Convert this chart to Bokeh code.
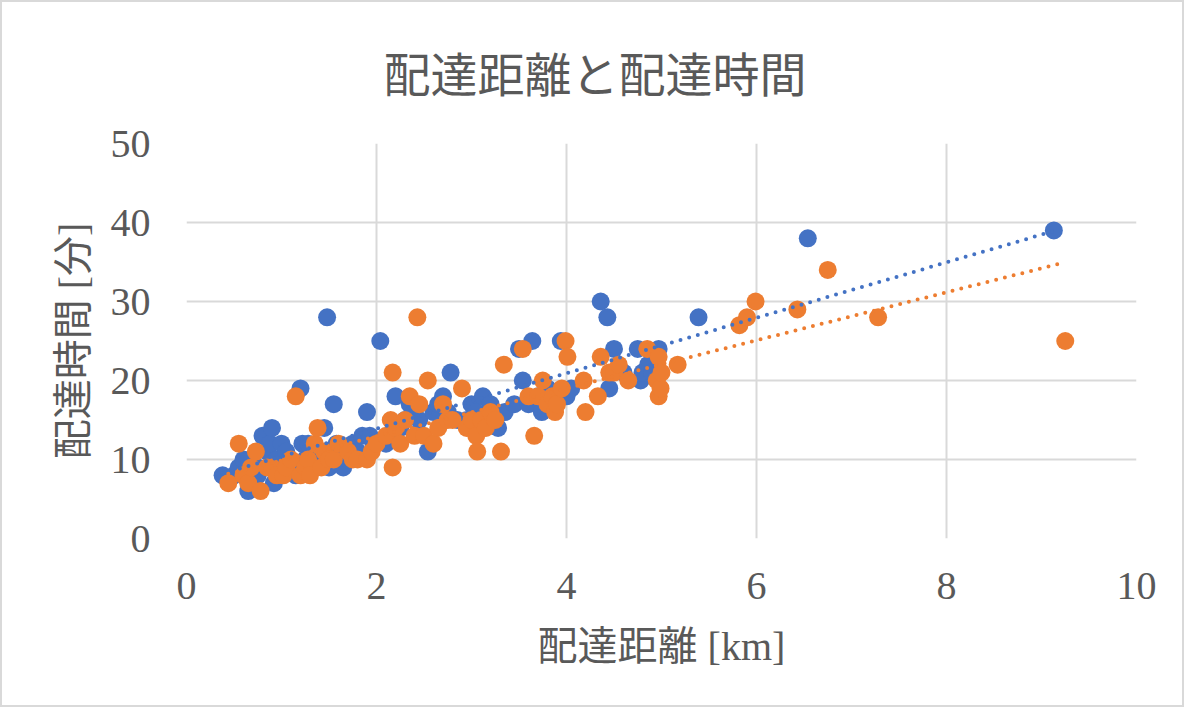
import numpy as np
from bokeh.plotting import figure
from bokeh.models import FixedTicker, Range1d
from bokeh.embed import file_html
from bokeh.resources import INLINE

# ---- data ----
title_text = "配達距離と配達時間"
x_label = "配達距離 [km]"
y_label = "配達時間 [分]"
x_ticks = [0, 2, 4, 6, 8, 10]
y_ticks = [0, 10, 20, 30, 40, 50]

blue_x = [0.38, 0.5, 0.55, 0.6, 0.65, 0.7, 0.75, 0.75, 0.8, 0.85, 0.88, 0.9, 0.92, 0.95, 1.0,
          1.05, 1.08, 1.1, 1.15, 1.18, 1.2, 1.22, 1.25, 1.28, 1.3, 1.35, 1.38, 1.4, 1.45, 1.48,
          1.5, 1.55, 1.58, 1.6, 1.65, 1.68, 1.7, 1.75, 1.8, 1.85, 1.9, 1.93, 1.97, 2.04, 2.1,
          2.15, 2.2, 2.25, 2.3, 2.35, 2.4, 2.45, 2.54, 2.6, 2.65, 2.7, 2.75, 2.78, 2.85, 2.95,
          3.0, 3.05, 3.12, 3.15, 3.2, 3.28, 3.35, 3.45, 3.5, 3.54, 3.6, 3.64, 3.7, 3.74, 3.8,
          3.85, 3.9, 3.94, 4.0, 4.05, 4.36, 4.43, 4.45, 4.5, 4.6, 4.75, 4.78, 4.8, 4.86, 4.9,
          4.97, 5.39, 6.54, 9.13]
blue_y = [8, 8, 9, 10, 6, 7, 9, 8, 13, 11, 12, 14, 7, 10, 12,
          11, 10, 9, 8, 9, 19, 12, 10, 12, 11, 9, 11, 10, 14, 28,
          9, 17, 12, 11, 9, 11, 10, 12, 11, 13, 16, 13, 12, 25, 12,
          13, 18, 14, 15, 17, 16, 15, 11, 16, 17, 18, 16, 21, 15, 15,
          17, 16, 18, 15, 17, 14, 16, 17, 24, 20, 17, 25, 18, 16, 19,
          17, 18, 25, 18, 19, 30, 28, 19, 24, 21, 24, 20, 21, 22, 21,
          24, 28, 38, 39]

orange_x = [0.44, 0.55, 0.6, 0.65, 0.68, 0.73, 0.78, 0.85, 0.9, 0.95, 1.02, 1.05, 1.1, 1.15,
            1.2, 1.25, 1.28, 1.3, 1.35, 1.38, 1.42, 1.45, 1.5, 1.55, 1.6, 1.7, 1.75, 1.8, 1.9,
            1.95, 2.0, 2.1, 2.15, 2.17, 2.17, 2.2, 2.25, 2.3, 2.35, 2.4, 2.43, 2.45, 2.5, 2.54,
            2.6, 2.65, 2.7, 2.75, 2.8, 2.9, 2.95, 3.0, 3.05, 3.06, 3.1, 3.15, 3.2, 3.25, 3.31,
            3.34, 3.54, 3.6, 3.66, 3.7, 3.75, 3.8, 3.85, 3.88, 3.9, 3.95, 3.99, 4.01, 4.18, 4.2,
            4.33, 4.36, 4.45, 4.5, 4.55, 4.65, 4.85, 4.95, 4.97, 4.99, 4.97, 5.0, 5.17, 5.82,
            5.9, 5.99, 6.43, 6.75, 7.28, 9.25]
orange_y = [7, 12, 8, 7, 9, 11, 6, 9, 9, 8, 8, 9, 10, 18,
            8, 9, 10, 8, 12, 14, 9, 11, 10, 10, 12, 11, 10, 10, 10,
            11, 12, 13, 15, 9, 21, 14, 12, 15, 18, 13, 28, 17, 13, 20,
            12, 14, 17, 15, 15, 19, 14, 15, 13, 11, 15, 14, 16, 15, 11,
            22, 24, 18, 13, 18, 20, 17, 18, 16, 17, 19, 25, 23, 20, 16,
            18, 23, 21, 21, 22, 20, 24, 20, 18, 19, 23, 21, 22, 27,
            28, 30, 29, 34, 28, 25]

BLUE = "#4472C4"
ORANGE = "#ED7D31"
TEXT = "#595959"
GRID = "#D9D9D9"
SERIF = "Liberation Serif, Noto Sans CJK JP"

p = figure(width=1184, height=707, output_backend="svg", toolbar_location=None,
           x_range=Range1d(0, 10), y_range=Range1d(0, 50),
           min_border_left=184, min_border_right=50, min_border_top=141, min_border_bottom=171)
p.styles = {"border": "2px solid #D9D9D9", "box-sizing": "border-box"}

p.title.text = title_text
p.title.align = "left"
p.title.offset = 197
p.title.text_font = SERIF
p.title.text_font_size = "47px"
p.title.text_font_style = "normal"
p.title.text_color = TEXT
p.title.standoff = 83

p.outline_line_color = None
p.background_fill_color = "white"
p.border_fill_color = "white"

for ax in (p.xaxis[0], p.yaxis[0]):
    ax.axis_line_color = None
    ax.major_tick_line_color = None
    ax.minor_tick_line_color = None
    ax.major_label_text_font = "Liberation Serif"
    ax.major_label_text_font_size = "40px"
    ax.major_label_text_color = TEXT
    ax.axis_label_text_font = SERIF
    ax.axis_label_text_font_size = "40px"
    ax.axis_label_text_font_style = "normal"
    ax.axis_label_text_color = TEXT

p.xaxis.ticker = FixedTicker(ticks=x_ticks)
p.yaxis.ticker = FixedTicker(ticks=y_ticks)
p.xaxis.axis_label = x_label
p.yaxis.axis_label = y_label
p.xaxis.major_label_standoff = 28
p.yaxis.major_label_standoff = 30
p.xaxis.axis_label_standoff = 22
p.yaxis.axis_label_standoff = 12

p.xgrid.ticker = FixedTicker(ticks=x_ticks)
p.ygrid.ticker = FixedTicker(ticks=y_ticks)
p.grid.grid_line_color = GRID
p.grid.grid_line_width = 2

p.scatter(blue_x, blue_y, size=18, fill_color=BLUE, line_color=None)
p.scatter(orange_x, orange_y, size=18, fill_color=ORANGE, line_color=None)

for xs, ys, col in ((blue_x, blue_y, BLUE), (orange_x, orange_y, ORANGE)):
    a, b = np.polyfit(xs, ys, 1)
    tx = np.array([min(xs), max(xs)])
    p.line(tx, a * tx + b, line_color=col, line_width=4, line_dash="0 9", line_cap="round")

open("out.html", "w").write(file_html(p, INLINE))
